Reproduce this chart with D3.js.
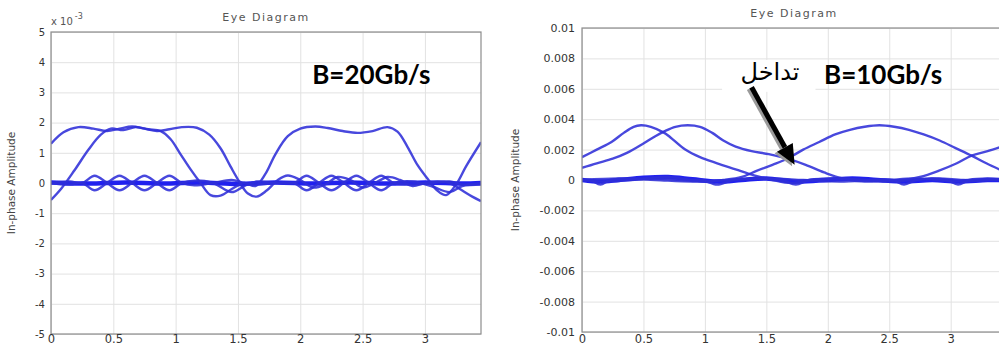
<!DOCTYPE html>
<html>
<head>
<meta charset="utf-8">
<script src="https://cdn.jsdelivr.net/npm/d3@7"></script>
<style>
  html, body { margin: 0; padding: 0; background: #fff; }
  svg { display: block; }
</style>
</head>
<body>
<svg id="chart" width="999" height="349"></svg>
<script>
// ---------------- DATA ----------------
const titleText = "Eye Diagram";
const yAxisTitle = "In-phase Amplitude";
const xTicks = [0, 0.5, 1, 1.5, 2, 2.5, 3];
const xTickLabels = ["0", "0.5", "1", "1.5", "2", "2.5", "3"];
const xDomain = [0, 3.45];

// Left panel (B = 20 Gb/s), values in units of 1e-3
const leftYTicks = [5, 4, 3, 2, 1, 0, -1, -2, -3, -4, -5];
const leftYTickLabels = ["5", "4", "3", "2", "1", "0", "-1", "-2", "-3", "-4", "-5"];
const leftMultiplierBase = "x 10";
const leftMultiplierExp = "-3";
const leftRateLabel = "B=20Gb/s";

const leftTraceA = [[0,1.3],[0.1,1.68],[0.22,1.85],[0.34,1.8],[0.45,1.72],[0.55,1.8],[0.65,1.87],[0.75,1.8],[0.85,1.72],[0.95,1.78],[1.05,1.85],[1.17,1.83],[1.27,1.6],[1.36,1.15],[1.44,0.55],[1.51,0.05],[1.58,-0.35],[1.65,-0.45],[1.73,-0.25],[1.82,0.1],[1.9,0.25],[2.0,0.1],[2.1,-0.15],[2.2,-0.05],[2.3,0.2],[2.4,0.1],[2.5,-0.15],[2.6,0],[2.7,0.2],[2.8,0.1],[2.9,-0.1],[3.0,0],[3.1,0.05],[3.2,0],[3.3,-0.25],[3.38,-0.45],[3.45,-0.6]];
const leftTraceB = [[0,-0.56],[0.08,-0.2],[0.19,0.43],[0.3,1.1],[0.4,1.6],[0.48,1.8],[0.58,1.75],[0.68,1.85],[0.78,1.78],[0.88,1.72],[0.96,1.45],[1.04,0.95],[1.12,0.45],[1.2,0.0],[1.28,-0.4],[1.36,-0.42],[1.45,-0.2],[1.55,0.0],[1.64,-0.1],[1.72,0.3],[1.8,0.95],[1.9,1.55],[2.0,1.8],[2.12,1.87],[2.22,1.82],[2.34,1.72],[2.46,1.66],[2.58,1.72],[2.7,1.85],[2.78,1.7],[2.86,1.2],[2.94,0.6],[3.02,0.15],[3.1,-0.25],[3.17,-0.4],[3.25,-0.05],[3.33,0.55],[3.45,1.35]];
const leftRippleA = [[0,0],[0.15,0.05],[0.25,0],[0.35,0.24],[0.45,0],[0.55,-0.24],[0.65,0],[0.75,0.24],[0.85,0],[0.95,-0.24],[1.05,0],[1.15,0.08],[1.3,0],[1.45,-0.3],[1.55,-0.1],[1.65,0.05],[1.8,0],[1.95,0],[2.05,0.24],[2.15,0],[2.25,-0.24],[2.35,0],[2.45,0.24],[2.55,0],[2.65,-0.24],[2.75,0],[2.9,0.05],[3.05,-0.1],[3.2,-0.3],[3.3,-0.1],[3.45,-0.05]];
const leftRippleB = [[0,0],[0.15,-0.05],[0.25,0],[0.35,-0.24],[0.45,0],[0.55,0.24],[0.65,0],[0.75,-0.24],[0.85,0],[0.95,0.24],[1.05,0],[1.15,-0.08],[1.3,0],[1.45,0.1],[1.55,0],[1.65,-0.05],[1.8,0],[1.95,0],[2.05,-0.24],[2.15,0],[2.25,0.24],[2.35,0],[2.45,-0.24],[2.55,0],[2.65,0.24],[2.75,0],[2.9,-0.05],[3.05,0],[3.2,0.05],[3.3,-0.05],[3.45,0]];
const leftZeroBand = [[0,0.02],[0.3,-0.02],[0.6,0.02],[0.9,-0.02],[1.2,0.02],[1.5,-0.03],[1.8,0.02],[2.1,-0.02],[2.4,0.02],[2.7,-0.02],[3.0,0.02],[3.3,-0.02],[3.45,0]];

// Right panel (B = 10 Gb/s)
const rightYTicks = [0.01, 0.008, 0.006, 0.004, 0.002, 0, -0.002, -0.004, -0.006, -0.008, -0.01];
const rightYTickLabels = ["0.01", "0.008", "0.006", "0.004", "0.002", "0", "-0.002", "-0.004", "-0.006", "-0.008", "-0.01"];
const rightRateLabel = "B=10Gb/s";
const rightNote = "تداخل";

const rightTraceA = [[0,0.0015],[0.12,0.002],[0.24,0.0025],[0.34,0.0031],[0.42,0.0035],[0.48,0.0036],[0.56,0.0035],[0.67,0.0031],[0.72,0.0028],[0.84,0.002],[0.96,0.0015],[1.1,0.0011],[1.25,0.0007],[1.4,0.0003],[1.55,0.0],[1.7,-0.0002],[1.85,0.0],[2.05,0.0001],[2.3,0.0],[2.5,-0.0001],[2.7,0.0],[2.9,0.0001],[3.1,0.0],[3.3,0.0],[3.45,0.0001]];
const rightTraceB = [[0,0.0008],[0.12,0.0011],[0.25,0.0014],[0.37,0.0018],[0.5,0.0024],[0.6,0.0029],[0.67,0.0032],[0.76,0.0035],[0.86,0.0036],[0.96,0.0035],[1.06,0.0031],[1.15,0.0026],[1.25,0.0022],[1.38,0.0019],[1.52,0.0017],[1.67,0.0014],[1.82,0.001],[1.97,0.0005],[2.12,0.0001],[2.3,-0.0001],[2.5,0.0],[2.7,0.0001],[2.9,0.0],[3.1,-0.0001],[3.3,0.0],[3.45,0.0]];
const rightTraceC = [[0,0],[0.2,-0.0001],[0.4,0],[0.6,0.0001],[0.8,0],[1.0,-0.0001],[1.15,0.0],[1.3,0.0002],[1.42,0.0006],[1.55,0.001],[1.67,0.0014],[1.8,0.002],[1.93,0.0025],[2.06,0.003],[2.18,0.0033],[2.3,0.0035],[2.42,0.0036],[2.54,0.0035],[2.66,0.0033],[2.78,0.003],[2.91,0.0026],[3.04,0.0021],[3.17,0.0016],[3.29,0.0011],[3.45,0.0005]];
const rightTraceD = [[0,0],[0.3,0.0001],[0.6,0],[0.9,-0.0001],[1.2,0],[1.5,0.0001],[1.8,0],[2.1,-0.0001],[2.4,0],[2.6,0.0],[2.75,0.0002],[2.9,0.0006],[3.05,0.0011],[3.17,0.0016],[3.3,0.0019],[3.45,0.0023]];
const rightZeroA = [[0,0],[0.07,0],[0.15,-0.0003],[0.23,0],[0.5,0.0001],[0.7,0.0002],[0.9,0],[0.98,0],[1.1,-0.0003],[1.23,0],[1.45,0.0001],[1.63,0],[1.74,-0.0003],[1.85,0],[2.1,0.0001],[2.3,0],[2.53,0],[2.62,-0.0003],[2.72,0],[2.85,0.0001],[2.97,0],[3.06,-0.0003],[3.15,0],[3.3,0.0001],[3.45,0]];
const rightZeroB = [[0,0.0],[0.15,-0.0001],[0.3,0.0],[0.5,0.00015],[0.7,0.0002],[0.9,0.00005],[1.1,-0.0001],[1.3,0.0],[1.5,0.0001],[1.74,-0.0001],[2.0,0.0],[2.2,0.0001],[2.4,0.0],[2.62,-0.0001],[2.85,0.0],[3.06,-0.0001],[3.3,0.0],[3.45,0.0]];

// ---------------- DRAWING ----------------
const svg = d3.select("#chart");
const traceColor = "#2f2fd8";
const bandColor = "#1515ee";

function drawPanel(cfg) {
  const x = d3.scaleLinear().domain(xDomain).range([cfg.left, cfg.right]);
  const y = d3.scaleLinear().domain(cfg.yDomain).range([cfg.bottom, cfg.top]);
  const g = svg.append("g");
  const w = cfg.right - cfg.left, h = cfg.bottom - cfg.top;

  const clipId = "clip-" + cfg.id;
  svg.append("defs").append("clipPath").attr("id", clipId)
    .append("rect").attr("x", cfg.left).attr("y", cfg.top).attr("width", w).attr("height", h);

  // grid
  const gx = g.append("g").attr("transform", `translate(0,${cfg.bottom})`)
    .call(d3.axisBottom(x).tickValues(xTicks).tickSize(-h).tickFormat(""));
  const gy = g.append("g").attr("transform", `translate(${cfg.left},0)`)
    .call(d3.axisLeft(y).tickValues(cfg.yTicks).tickSize(-w).tickFormat(""));
  [gx, gy].forEach(a => {
    a.select(".domain").remove();
    a.selectAll(".tick line").attr("stroke", "#e2e2e2").attr("stroke-width", 1);
  });

  // traces
  const line = d3.line().x(d => x(d[0])).y(d => y(d[1])).curve(d3.curveCatmullRom.alpha(0.5));
  const tg = g.append("g").attr("clip-path", `url(#${clipId})`);
  cfg.bands.forEach(t => {
    tg.append("path").datum(t).attr("d", line).attr("fill", "none")
      .attr("stroke", bandColor).attr("stroke-width", 4.5).attr("stroke-opacity", 0.95);
  });
  cfg.traces.forEach(t => {
    tg.append("path").datum(t).attr("d", line).attr("fill", "none")
      .attr("stroke", traceColor).attr("stroke-width", 2.4).attr("stroke-opacity", 0.88);
  });

  // box
  g.append("rect").attr("x", cfg.left).attr("y", cfg.top).attr("width", w).attr("height", h)
    .attr("fill", "none").attr("stroke", "#8c8c8c").attr("stroke-width", 1.2);

  // tick labels
  const ax = g.append("g").attr("transform", `translate(0,${cfg.bottom})`)
    .call(d3.axisBottom(x).tickValues(xTicks).tickFormat((d, i) => xTickLabels[i]).tickSize(0).tickPadding(cfg.xPad));
  const ay = g.append("g").attr("transform", `translate(${cfg.left},0)`)
    .call(d3.axisLeft(y).tickValues(cfg.yTicks).tickFormat((d, i) => cfg.yLabels[i]).tickSize(0).tickPadding(cfg.yPad));
  ax.select(".domain").remove();
  ay.select(".domain").remove();
  ax.selectAll("text").attr("font-family", "DejaVu Sans").attr("font-size", 11.5).attr("fill", "#333");
  ay.selectAll("text").attr("font-family", "DejaVu Sans").attr("font-size", cfg.yFont).attr("fill", "#333");

  // title
  g.append("text").attr("x", (cfg.left + cfg.right) / 2).attr("y", cfg.titleY)
    .attr("text-anchor", "middle").attr("font-family", "DejaVu Sans").attr("font-size", 11)
    .attr("letter-spacing", 1.5).attr("fill", "#555").text(titleText);

  // y axis title
  g.append("text").attr("transform", `translate(${cfg.yTitleX},${(cfg.top + cfg.bottom) / 2}) rotate(-90)`)
    .attr("text-anchor", "middle").attr("font-family", "DejaVu Sans").attr("font-size", 10.5)
    .attr("fill", "#444").text(yAxisTitle);

  // rate label
  g.append("text").attr("x", x(cfg.rateX)).attr("y", y(cfg.rateY))
    .attr("text-anchor", "middle").attr("font-family", "Lato").attr("font-weight", "bold")
    .attr("font-size", 26).attr("fill", "#000").text(cfg.rate);

  return { x, y, g };
}

const left = drawPanel({
  id: "l", left: 51, right: 481, top: 32, bottom: 334,
  yDomain: [-5, 5], yTicks: leftYTicks, yLabels: leftYTickLabels, yFont: 10,
  xPad: 1, yPad: 6, titleY: 21, yTitleX: 15,
  traces: [leftTraceA, leftTraceB, leftRippleA, leftRippleB],
  bands: [leftZeroBand],
  rate: leftRateLabel, rateX: 2.57, rateY: 3.27
});

// multiplier label
const mult = left.g.append("text").attr("x", 51).attr("y", 25)
  .attr("font-family", "DejaVu Sans").attr("font-size", 10).attr("fill", "#555");
mult.append("tspan").text(leftMultiplierBase);
mult.append("tspan").attr("dx", 2).attr("dy", -6).attr("font-size", 8).text(leftMultiplierExp);

const right = drawPanel({
  id: "r", left: 582, right: 1006, top: 28, bottom: 332,
  yDomain: [-0.01, 0.01], yTicks: rightYTicks, yLabels: rightYTickLabels, yFont: 11,
  xPad: 3, yPad: 7, titleY: 17, yTitleX: 519,
  traces: [rightTraceA, rightTraceB, rightTraceC, rightTraceD, rightZeroA],
  bands: [rightZeroB],
  rate: rightRateLabel, rateX: 2.45, rateY: 0.0063
});

// annotation: note box + arrow
const rx = right.x, ry = right.y;
right.g.append("rect")
  .attr("x", rx(1.14)).attr("y", ry(0.0079)).attr("width", rx(1.9) - rx(1.14)).attr("height", ry(0.0058) - ry(0.0079))
  .attr("fill", "#fff");
right.g.append("text").attr("x", rx(1.53)).attr("y", ry(0.0066))
  .attr("text-anchor", "middle").attr("font-family", "DejaVu Sans").attr("font-size", 24)
  .attr("fill", "#000").attr("direction", "rtl").text(rightNote);

function arrow(x0, y0, x1, y1, color, dx, dy) {
  const ang = Math.atan2(y1 - y0, x1 - x0);
  const headLen = 20, headW = 9, shaftW = 5;
  const bx = x1 - headLen * Math.cos(ang), by = y1 - headLen * Math.sin(ang);
  const nx = -Math.sin(ang), ny = Math.cos(ang);
  right.g.append("line").attr("x1", x0 + dx).attr("y1", y0 + dy).attr("x2", bx + dx).attr("y2", by + dy)
    .attr("stroke", color).attr("stroke-width", shaftW);
  right.g.append("path")
    .attr("d", `M${x1 + dx},${y1 + dy}L${bx + nx * headW + dx},${by + ny * headW + dy}L${bx - nx * headW + dx},${by - ny * headW + dy}Z`)
    .attr("fill", color);
}
const ax0 = rx(1.38), ay0 = ry(0.0061), ax1 = rx(1.73), ay1 = ry(0.0010);
arrow(ax0, ay0, ax1, ay1, "#9a9a9a", -2.5, 1.5);
arrow(ax0, ay0, ax1, ay1, "#000", 0, 0);
</script>
</body>
</html>
